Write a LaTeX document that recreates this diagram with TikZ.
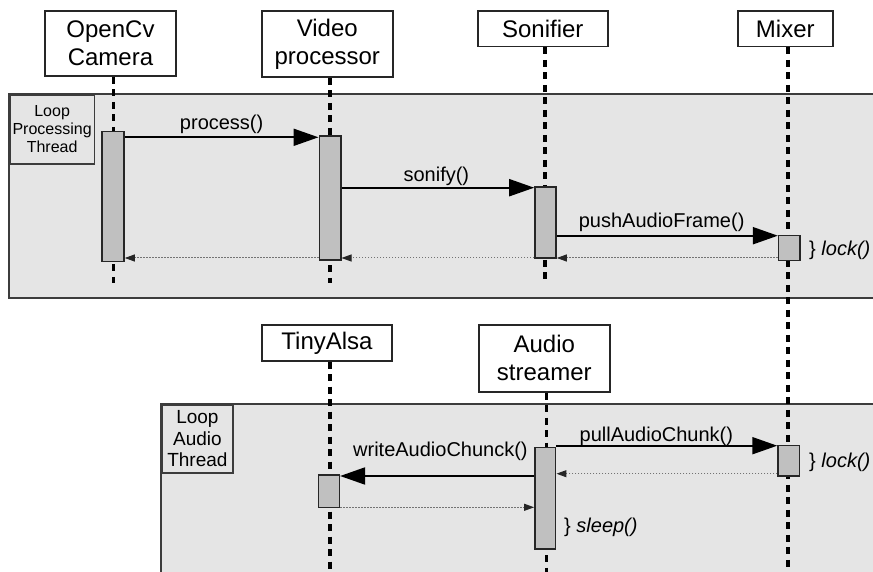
\documentclass[tikz,border=0pt]{standalone}
\usepackage{fontspec}
\setmainfont{Liberation Sans}
\usetikzlibrary{arrows.meta}
\definecolor{framefill}{RGB}{229,229,229}
\definecolor{actfill}{RGB}{192,192,192}
\definecolor{edgecol}{RGB}{38,38,38}
\definecolor{framecol}{RGB}{60,60,60}
\tikzset{
  participant/.style={draw=edgecol, line width=1.8pt, fill=white, align=center,
    font=\fontsize{24}{28}\selectfont, inner sep=0pt},
  activation/.style={draw=edgecol, line width=1.6pt, fill=actfill, inner sep=0pt},
  lifeline/.style={line width=3.5pt, dash pattern=on 7pt off 5.5pt},
  msg/.style={line width=2pt, -{Triangle[length=25pt,width=17pt]}},
  ret/.style={line width=1pt, black!55, dash pattern=on 1.5pt off 1.5pt,
    -{Triangle[length=10pt,width=7pt,color=black!85]}},
  msglabel/.style={font=\fontsize{20}{24}\selectfont, anchor=base, inner sep=0pt},
  note/.style={font=\fontsize{20}{24}\selectfont, anchor=base west, inner sep=0pt},
  loopframe/.style={draw=framecol, line width=2pt, fill=framefill},
  looplabel/.style={draw=framecol, line width=1.8pt, fill=framefill, align=center,
    inner sep=0pt, anchor=north west},
}
\begin{document}
\begin{tikzpicture}[x=1pt, y=-1pt]
\clip (0,0) rectangle (873,572);
\fill[white] (0,0) rectangle (873,572);

% loop frames
\draw[loopframe] (9,94) rectangle (890,298);
\node[looplabel, minimum width=84.5pt, minimum height=69pt,
  font=\fontsize{16}{18}\selectfont] (loopproc) at (9,94) {Loop\\Processing\\Thread};
\draw[loopframe] (161,404) rectangle (890,590);
\node[looplabel, minimum width=71pt, minimum height=68pt,
  font=\fontsize{19}{21.5}\selectfont] (loopaudio) at (161,404) {Loop\\Audio\\Thread};

% participants
\node[participant, minimum width=131pt, minimum height=65pt] (cam) at (110.5,43.5) {OpenCv\\Camera};
\node[participant, minimum width=130.7pt, minimum height=66pt] (vp) at (327.3,44) {Video\\processor};
\node[participant, minimum width=130.3pt, minimum height=35.5pt] (son) at (542.8,28.7) {Sonifier};
\node[participant, minimum width=95.3pt, minimum height=35.5pt] (mix) at (785.3,28.7) {Mixer};
\node[participant, minimum width=130.6pt, minimum height=35.7pt] (tiny) at (327,342.8) {TinyAlsa};
\node[participant, minimum width=130.7pt, minimum height=66.7pt] (as) at (544.3,358.3) {Audio\\streamer};

% lifeline ends
\coordinate (camend) at (113.3,283);
\coordinate (vpend) at (330,283);
\coordinate (sonend) at (545,283);
\coordinate (mixend) at (787.8,580);
\coordinate (tinyend) at (330,580);
\coordinate (asend) at (546.5,580);

% lifelines
\draw[lifeline] (cam.south -| camend) -- (camend);
\draw[lifeline] (vp.south -| vpend) -- (vpend);
\draw[lifeline] (son.south -| sonend) -- (sonend);
\draw[lifeline] (mix.south -| mixend) -- (mixend);
\draw[lifeline] (tiny.south -| tinyend) -- (tinyend);
\draw[lifeline] (as.south -| asend) -- (asend);

% activations
\node[activation, minimum width=22pt, minimum height=130pt] (camact) at (113,196.7) {};
\node[activation, minimum width=21.4pt, minimum height=124pt] (vpact) at (330,198) {};
\node[activation, minimum width=21pt, minimum height=71pt] (sonact) at (545.5,222.8) {};
\node[activation, minimum width=21.3pt, minimum height=25pt] (mixact) at (789.3,248.2) {};
\node[activation, minimum width=21pt, minimum height=32.3pt] (tinyact) at (328.8,491.2) {};
\node[activation, minimum width=20.7pt, minimum height=101.3pt] (asact) at (545.3,498.3) {};
\node[activation, minimum width=21.3pt, minimum height=30.3pt] (mixact2) at (788.7,460.8) {};

% message levels
\coordinate (yproc) at (0,137.3);
\coordinate (ysonify) at (0,187.7);
\coordinate (ypush) at (0,235.7);
\coordinate (yback) at (0,258);
\coordinate (ypull) at (0,445.7);
\coordinate (ypullback) at (0,473.7);
\coordinate (ywrite) at (0,476);
\coordinate (ywriteback) at (0,507.3);

% processing thread
\draw[msg] (camact.east |- yproc) -- (vpact.west |- yproc)
  node[msglabel, midway, yshift=7.3pt] (lproc) {process()};
\draw[msg] (vpact.east |- ysonify) -- (sonact.west |- ysonify)
  node[msglabel, midway, yshift=5.7pt, xshift=-1.5pt] (lsonify) {sonify()};
\draw[msg] (sonact.east |- ypush) -- (mixact.west |- ypush)
  node[msglabel, midway, yshift=7.7pt, xshift=-5.7pt] (lpush) {pushAudioFrame()};
\draw[ret] (mixact.west |- yback) -- (sonact.east |- yback);
\draw[ret] (sonact.west |- yback) -- (vpact.east |- yback);
\draw[ret] (vpact.west |- yback) -- (camact.east |- yback);
\node[note] (lock1) at (809,255) {\} \textit{lock()}};

% audio thread
\draw[msg] (asact.east |- ypull) -- (mixact2.west |- ypull)
  node[msglabel, midway, yshift=4pt, xshift=-10.5pt] (lpull) {pullAudioChunk()};
\draw[ret] (mixact2.west |- ypullback) -- (asact.east |- ypullback);
\draw[msg] (asact.west |- ywrite) -- (tinyact.east |- ywrite)
  node[msglabel, midway, yshift=19.3pt, xshift=3.3pt] (lwrite) {writeAudioChunck()};
\draw[ret] (tinyact.east |- ywriteback) -- (asact.west |- ywriteback);
\node[note] (lock2) at (809,467) {\} \textit{lock()}};
\node[note] (sleep) at (564,532) {\} \textit{sleep()}};
\end{tikzpicture}
\end{document}
